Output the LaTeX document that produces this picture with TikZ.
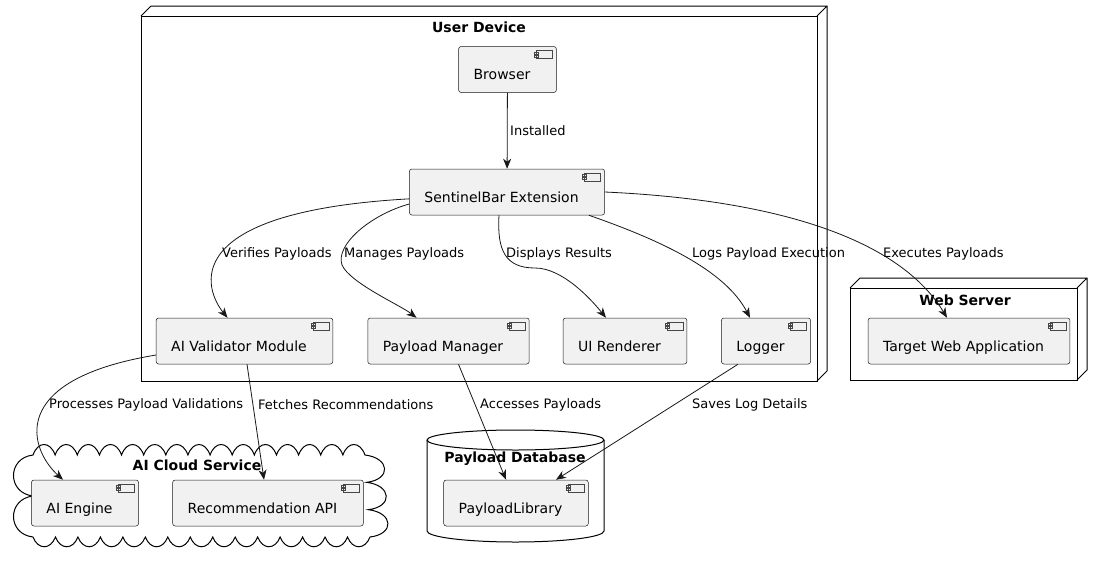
\documentclass[tikz,border=0pt]{standalone}
\usepackage{fontspec}
\setmainfont{DejaVu Sans}
\usetikzlibrary{arrows.meta}

\definecolor{boxfill}{HTML}{F1F1F1}
\definecolor{boxline}{HTML}{181818}

\tikzset{
  comp/.style={draw=boxline, line width=0.5pt, fill=boxfill, rounded corners=2.5pt,
    inner xsep=15pt, inner ysep=0pt, text height=33pt, text depth=13pt,
    font=\fontsize{14}{16}\selectfont, execute at end node={\hspace*{11pt}},
    path picture={
      \draw[boxline!80, line width=0.4pt, sharp corners, fill=boxfill]
        ([shift={(-20,4)}]path picture bounding box.north east) rectangle ([shift={(-4,12)}]path picture bounding box.north east)
        ([shift={(-22,5.5)}]path picture bounding box.north east) rectangle ([shift={(-18,7.5)}]path picture bounding box.north east)
        ([shift={(-22,8.5)}]path picture bounding box.north east) rectangle ([shift={(-18,10.5)}]path picture bounding box.north east);
    }},
  frame/.style={draw=black, line width=1pt},
  flow/.style={draw=boxline, line width=0.8pt, -{Stealth[length=10pt,width=8pt,inset=3pt]}},
  lbl/.style={anchor=west, inner sep=0pt, font=\fontsize{13}{15}\selectfont},
  ttl/.style={inner sep=0pt, font=\bfseries\fontsize{14}{16}\selectfont}
}

\begin{document}
\begin{tikzpicture}[x=1pt, y=-1pt]
\useasboundingbox[fill=white] (0,0) rectangle (1102,560);

% user device
\draw[frame] (141,16) rectangle (817,381);
\draw[frame] (141,16) -- (151,6) -- (827,6) -- (827,371) -- (817,381) (817,16) -- (827,6);
\node[ttl] (tUser) at (479,27) {User Device};

% web server
\draw[frame] (850,288) rectangle (1077,380);
\draw[frame] (850,288) -- (860,278) -- (1087,278) -- (1087,370) -- (1077,380) (1077,288) -- (1087,278);
\node[ttl] (tWeb) at (965,300) {Web Server};

% cloud
\draw[frame] (33,455)
  \foreach \i in {1,...,15}{ .. controls +(5,-14) and +(-5,-14) .. ++(22.133,0) }
  \foreach \i in {1,2,3}{ .. controls +(25,3) and +(25,-3) .. ++(1.667,27.333) }
  \foreach \i in {1,...,15}{ .. controls +(-5,13) and +(5,13) .. ++(-22.467,0) }
  \foreach \i in {1,2}{ .. controls +(-26,-3) and +(-26,3) .. ++(0,-41) } -- cycle;
\node[ttl] (tCloud) at (197,465) {AI Cloud Service};

% database
\draw[frame] (427,440) -- (427,531) arc[start angle=180, end angle=0, x radius=88.5, y radius=11] -- (604,440);
\draw[frame] (515.5,440) ellipse[x radius=88.5, y radius=10];
\node[ttl] (tDb) at (515,459) {Payload Database};

\node[comp] (browser) at (507.5,69.5) {Browser};
\node[comp] (ext) at (507,192) {SentinelBar Extension};
\node[comp] (val) at (244.5,341) {AI Validator Module};
\node[comp] (man) at (448.5,341) {Payload Manager};
\node[comp] (ren) at (625,341) {UI Renderer};
\node[comp] (log) at (766,341) {Logger};
\node[comp] (app) at (969,341) {Target Web Application};
\node[comp] (eng) at (85,503) {AI Engine};
\node[comp] (rec) at (268,503) {Recommendation API};
\node[comp] (lib) at (516,503) {PayloadLibrary};

\draw[flow] (browser) -- (ext);
\draw[flow] (ext.184) .. controls (175,212) and (205,290) .. ([xshift=-17pt]val.north);
\draw[flow] (ext.187) .. controls (370,215) and (335,245) .. (342,265) .. controls (350,283) and (400,305) .. ([xshift=-32pt]man.north);
\draw[flow] ([xshift=-8pt]ext.south) .. controls (497,250) and (505,268) .. (535,268) .. controls (562,268) and (590,298) .. ([xshift=-19pt]ren.north);
\draw[flow] ([xshift=-16pt]ext.south east) .. controls (660,240) and (725,270) .. ([xshift=-16pt]log.north);
\draw[flow] (ext.east) .. controls (780,200) and (900,240) .. ([xshift=-22pt]app.north);
\draw[flow] (val.189) .. controls (5,380) and (30,450) .. ([xshift=-22pt]eng.north);
\draw[flow] ([xshift=2.5pt]val.south) -- ([xshift=-4pt]rec.north);
\draw[flow] ([xshift=10pt]man.south) -- ([xshift=-10pt]lib.north);
\draw[flow] ([xshift=-28pt]log.south) -- ([xshift=40pt]lib.north);

\node[lbl] (lInst) at (510,131) {Installed};
\node[lbl] (lVer) at (222,254) {Verifies Payloads};
\node[lbl] (lMan) at (344,254) {Manages Payloads};
\node[lbl] (lDisp) at (506,254) {Displays Results};
\node[lbl] (lLogs) at (692,254) {Logs Payload Execution};
\node[lbl] (lExec) at (883,254) {Executes Payloads};
\node[lbl] (lProc) at (49,405) {Processes Payload Validations};
\node[lbl] (lFetch) at (258,405) {Fetches Recommendations};
\node[lbl] (lAcc) at (480,405) {Accesses Payloads};
\node[lbl] (lSave) at (692,405) {Saves Log Details};

\end{tikzpicture}
\end{document}
